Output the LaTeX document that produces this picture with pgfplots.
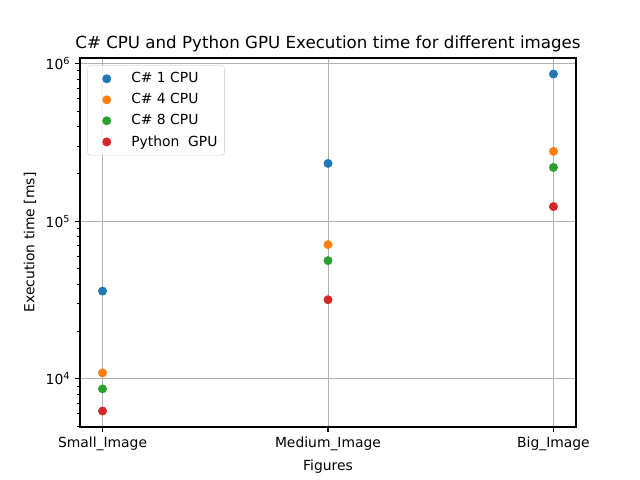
\documentclass[border=0pt]{standalone}
\usepackage{fontspec}
\setmainfont{DejaVu Sans}
\usepackage{pgfplots}
\pgfplotsset{compat=1.18}
\definecolor{c1}{HTML}{1F77B4}
\definecolor{c2}{HTML}{FF7F0E}
\definecolor{c3}{HTML}{2CA02C}
\definecolor{c4}{HTML}{D62728}
\definecolor{gridc}{HTML}{B0B0B0}
\begin{document}
\begin{tikzpicture}
\useasboundingbox (-57.6pt,-38.16pt) rectangle (403.2pt,307.44pt);
\begin{axis}[
  at={(0,0)}, anchor=south west,
  scale only axis, width=357.12pt, height=265.68pt,
  ymode=log,
  xmin=-0.1, xmax=2.1,
  ymin=4950, ymax=1.087e6,
  xtick={0,1,2},
  xticklabels={Small\_Image, Medium\_Image, Big\_Image},
  ytick={1e4,1e5,1e6},
  yticklabel={\pgfmathtruncatemacro\e{round(\tick/ln(10))}10\textsuperscript{\e}},
  minor ytick={5000,6000,7000,8000,9000,20000,30000,40000,50000,60000,70000,80000,90000,200000,300000,400000,500000,600000,700000,800000,900000},
  tick pos=left, tick align=outside,
  major tick length=3.5pt, minor tick length=2pt,
  every tick/.style={black, line width=0.8pt},
  minor tick style={line width=0.6pt},
  xmajorgrids, ymajorgrids,
  major grid style={draw=gridc, line width=0.7pt},
  axis line style={line width=0.8pt},
  tick label style={font=\fontsize{10}{12}\selectfont},
  label style={font=\fontsize{10}{12}\selectfont},
  /pgf/number format/assume math mode=true,
  xlabel={Figures},
  ylabel={Execution time [ms]},
  title={C\# CPU and Python GPU Execution time for different images},
  title style={font=\fontsize{12}{14}\selectfont, at={(0.5,1)}, anchor=base, yshift=0.7pt},
  legend style={at={(0.0147,0.98)}, anchor=north west, draw=gray!30, rounded corners=2pt,
    fill=white, fill opacity=0.8, text opacity=1, font=\fontsize{10}{12}\selectfont,
    row sep=2.2pt, inner xsep=3pt, inner ysep=3pt},
  legend cell align=left,
  legend image code/.code={\path[draw=none, fill=none] (0cm,-0.1cm) rectangle (0.93cm,0.1cm);
    \draw[#1, mark=*, mark size=3pt, fill opacity=1, draw opacity=1] plot coordinates {(0.38cm,0cm)};},
  every axis plot/.append style={only marks, mark=*, mark size=3pt},
]
\addplot[c1, mark options={fill=c1, draw=c1}] coordinates {(0,36060) (1,232900) (2,860000)};
\addlegendentry{C\# 1 CPU}
\addplot[c2, mark options={fill=c2, draw=c2}] coordinates {(0,10920) (1,71100) (2,277700)};
\addlegendentry{C\# 4 CPU}
\addplot[c3, mark options={fill=c3, draw=c3}] coordinates {(0,8640) (1,56260) (2,219600)};
\addlegendentry{C\# 8 CPU}
\addplot[c4, mark options={fill=c4, draw=c4}] coordinates {(0,6255) (1,31770) (2,124000)};
\addlegendentry{Python\ \ GPU}
\end{axis}
\end{tikzpicture}
\end{document}
